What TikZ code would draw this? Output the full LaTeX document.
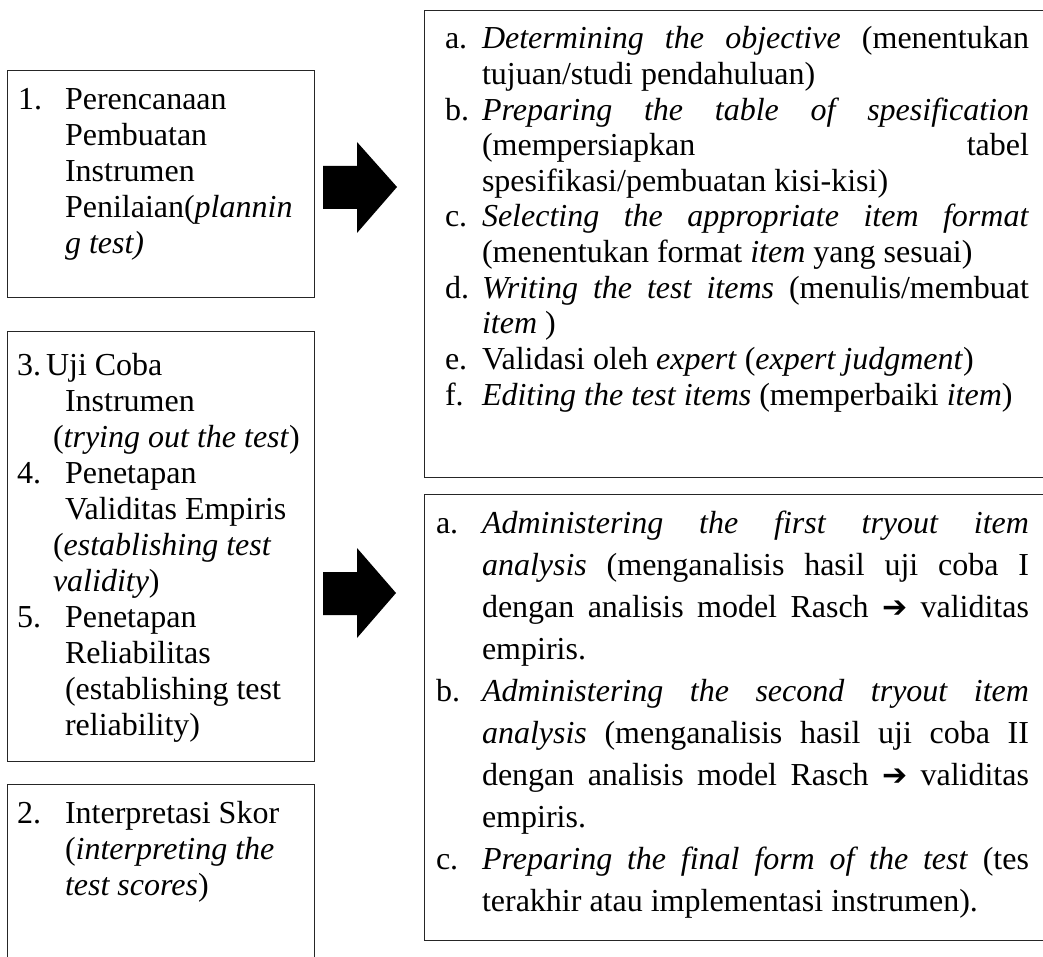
\documentclass[tikz,border=0pt]{standalone}
\usepackage{fontspec}
\setmainfont{Liberation Serif}
\newfontfamily\symfont{DejaVu Sans}
\newcommand{\jline}[1]{\makebox[547pt][s]{#1}}
\newcommand{\rarr}{{\symfont\fontsize{30}{30}\selectfont ➔}}
\begin{document}
\begin{tikzpicture}[x=1pt,y=-1pt,
  boxshape/.style={draw=black!85, line width=1.3pt, rectangle, inner sep=0pt, anchor=north west},
  txt/.style={anchor=base west, inner sep=0pt, outer sep=0pt, font=\fontsize{32}{35}\selectfont},
  blockarrow/.style={fill=black}]
\useasboundingbox (0,0) rectangle (1043,957);
\clip (0,0) rectangle (1043,957);

% ---------------- left boxes
\node (box1) [boxshape, minimum width=307pt, minimum height=227pt] at (7,70) {};
\node (box345) [boxshape, minimum width=307pt, minimum height=430pt] at (7,331) {};
\node (box2) [boxshape, minimum width=307pt, minimum height=200pt] at (7,784) {};

% box 1
\node (l1n) [txt] at (18,110) {1.};
\node (l1a) [txt] at (65,110) {Perencanaan};
\node (l1b) [txt] at (65,146) {Pembuatan};
\node (l1c) [txt] at (65,182) {Instrumen};
\node (l1d) [txt] at (65,218) {Penilaian(\textit{plannin}};
\node (l1e) [txt] at (65,254) {\textit{g test)}};

% box 3-5
\node (l3n) [txt] at (17,375) {3.};
\node (l3a) [txt] at (46,375) {Uji Coba};
\node (l3b) [txt] at (65,411) {Instrumen};
\node (l3c) [txt] at (53,447) {(\textit{trying out the test})};
\node (l4n) [txt] at (17,483) {4.};
\node (l4a) [txt] at (65,483) {Penetapan};
\node (l4b) [txt] at (65,519) {Validitas Empiris};
\node (l4c) [txt] at (53,555) {(\textit{establishing test}};
\node (l4d) [txt] at (53,591) {\textit{validity})};
\node (l5n) [txt] at (17,627) {5.};
\node (l5a) [txt] at (65,627) {Penetapan};
\node (l5b) [txt] at (65,663) {Reliabilitas};
\node (l5c) [txt] at (65,699) {(establishing test};
\node (l5d) [txt] at (65,735) {reliability)};

% box 2
\node (l2n) [txt] at (17,823) {2.};
\node (l2a) [txt] at (65,823) {Interpretasi Skor};
\node (l2b) [txt] at (65,859) {(\textit{interpreting the}};
\node (l2c) [txt] at (65,895) {\textit{test scores})};

% ---------------- block arrows
\fill[blockarrow] (323,166) -- (357,166) -- (357,142) -- (397,187) -- (357,233) -- (357,209) -- (323,209) -- cycle;
\fill[blockarrow] (323,572) -- (357,572) -- (357,548) -- (396,593) -- (357,638) -- (357,615) -- (323,615) -- cycle;

% ---------------- right boxes
\node (rtop) [boxshape, minimum width=630pt, minimum height=467pt] at (424,10) {};
\node (rbot) [boxshape, minimum width=630pt, minimum height=446pt] at (424,494) {};

% top right
\node (ran) [txt] at (445,49) {a.};
\node (ra1) [txt] at (482,49) {\jline{\textit{Determining the objective} (menentukan}};
\node (ra2) [txt] at (482,84.6) {tujuan/studi pendahuluan)};
\node (rbn) [txt] at (445,120.2) {b.};
\node (rb1) [txt] at (482,120.2) {\jline{\textit{Preparing the table of spesification}}};
\node (rb2) [txt] at (482,155.8) {\jline{(mempersiapkan tabel}};
\node (rb3) [txt] at (482,191.4) {spesifikasi/pembuatan kisi-kisi)};
\node (rcn) [txt] at (445,227) {c.};
\node (rc1) [txt] at (482,227) {\jline{\textit{Selecting the appropriate item format}}};
\node (rc2) [txt] at (482,262.6) {(menentukan format \textit{item} yang sesuai)};
\node (rdn) [txt] at (445,298.2) {d.};
\node (rd1) [txt] at (482,298.2) {\jline{\textit{Writing the test items} (menulis/membuat}};
\node (rd2) [txt] at (482,333.8) {\textit{item} )};
\node (ren) [txt] at (445,369.4) {e.};
\node (re1) [txt] at (482,369.4) {Validasi oleh \textit{expert} (\textit{expert judgment})};
\node (rfn) [txt] at (445,405) {f.};
\node (rf1) [txt] at (482,405) {\textit{Editing the test items} (memperbaiki \textit{item})};

% bottom right
\node (san) [txt] at (436,533) {a.};
\node (sa1) [txt] at (482,533) {\jline{\textit{Administering the first tryout item}}};
\node (sa2) [txt] at (482,575) {\jline{\textit{analysis} (menganalisis hasil uji coba I}};
\node (sa3) [txt] at (482,617) {\jline{dengan analisis model Rasch \rarr{} validitas}};
\node (sa4) [txt] at (482,659) {empiris.};
\node (sbn) [txt] at (436,701) {b.};
\node (sb1) [txt] at (482,701) {\jline{\textit{Administering the second tryout item}}};
\node (sb2) [txt] at (482,743) {\jline{\textit{analysis} (menganalisis hasil uji coba II}};
\node (sb3) [txt] at (482,785) {\jline{dengan analisis model Rasch \rarr{} validitas}};
\node (sb4) [txt] at (482,827) {empiris.};
\node (scn) [txt] at (436,869) {c.};
\node (sc1) [txt] at (482,869) {\jline{\textit{Preparing the final form of the test} (tes}};
\node (sc2) [txt] at (482,911) {terakhir atau implementasi instrumen).};
\end{tikzpicture}
\end{document}
